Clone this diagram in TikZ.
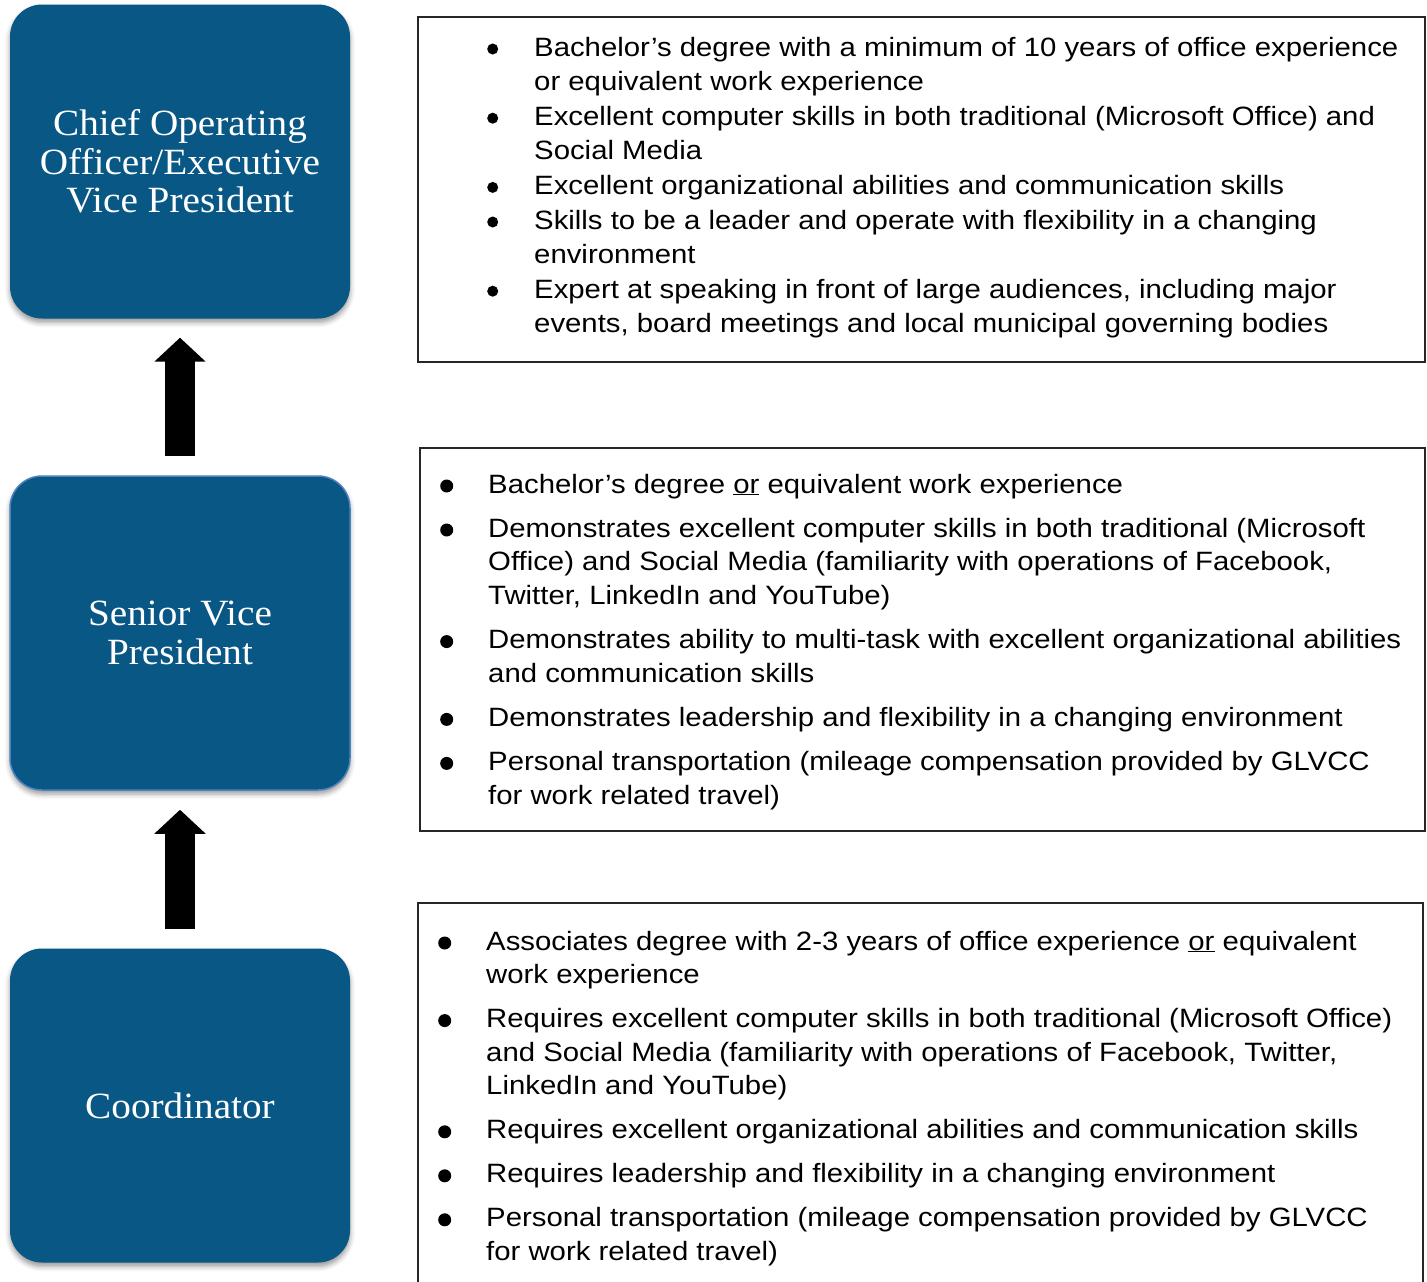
\documentclass[tikz,border=0pt]{standalone}
\usepackage{fontspec}
\setmainfont[FakeStretch=1.107]{Liberation Sans}
\newfontfamily\titlefont[FakeStretch=1.06]{Liberation Serif}
\usetikzlibrary{arrows.meta,shadows.blur}

\definecolor{rolefill}{RGB}{8,87,133}
\definecolor{roleedge}{RGB}{79,129,189}

% bullet mark: column width, dot radius
\newcommand\dotmark[2]{\makebox[#1][l]{\tikz[baseline={(0pt,-7pt)}]\fill[black] (0pt,0pt) circle (#2);}}

\tikzset{
  role/.style={fill=rolefill, rounded corners=32pt, minimum width=340pt,
    minimum height=314pt, inner sep=0pt, text=white, align=center,
    font=\titlefont\fontsize{37}{38.5}\selectfont,
    blur shadow={shadow xshift=0pt, shadow yshift=-4pt,
      shadow blur radius=5pt, shadow opacity=40}},
  reqbox/.style={draw=black!85, line width=1.5pt, inner sep=0pt},
  reqtext/.style={anchor=base west, inner sep=0pt, align=left},
  climb/.style={line width=30pt, -{Triangle[width=50pt,length=24pt]},
    shorten <=19pt, shorten >=19pt}
}

\begin{document}
\begin{tikzpicture}[x=1pt,y=1pt]
\useasboundingbox (0,0) rectangle (1427,-1282);

% career ladder
\node[role] (coo) at (180,-161.5) {Chief Operating\\Officer/Executive\\Vice President};
\node[role, draw=roleedge, line width=1.5pt] (svp) at (180,-633) {Senior Vice\\President};
\node[role] (crd) at (180,-1105.5) {Coordinator};

\draw[climb] (svp.north) -- (coo.south);
\draw[climb] (crd.north) -- (svp.south);

% requirement panels
\node[reqbox, minimum width=1007pt, minimum height=345pt] (req1) at (921.5,-189.5) {};
\node[reqbox, minimum width=1005pt, minimum height=383pt] (req2) at (922.5,-639.5) {};
\node[reqbox, minimum width=1005pt, minimum height=397pt] (req3) at (920.5,-1101.5) {};

\node[reqtext, font=\fontsize{26.5}{34.6}\selectfont] (req1text) at (487,-56) {%
\begin{tabular}[t]{@{}l@{}l@{}}
\dotmark{47pt}{5.5pt} & Bachelor’s degree with a minimum of 10 years of office experience\\
 & or equivalent work experience\\
\dotmark{47pt}{5.5pt} & Excellent computer skills in both traditional (Microsoft Office) and\\
 & Social Media\\
\dotmark{47pt}{5.5pt} & Excellent organizational abilities and communication skills\\
\dotmark{47pt}{5.5pt} & Skills to be a leader and operate with flexibility in a changing\\
 & environment\\
\dotmark{47pt}{5.5pt} & Expert at speaking in front of large audiences, including major\\
 & events, board meetings and local municipal governing bodies
\end{tabular}};

\node[reqtext, font=\fontsize{26.5}{33.8}\selectfont] (req2text) at (440,-493) {%
\begin{tabular}[t]{@{}l@{}l@{}}
\dotmark{48pt}{6.5pt} & Bachelor’s degree \underline{or} equivalent work experience\\[10.2pt]
\dotmark{48pt}{6.5pt} & Demonstrates excellent computer skills in both traditional (Microsoft\\
 & Office) and Social Media (familiarity with operations of Facebook,\\
 & Twitter, LinkedIn and YouTube)\\[10.2pt]
\dotmark{48pt}{6.5pt} & Demonstrates ability to multi-task with excellent organizational abilities\\
 & and communication skills\\[10.2pt]
\dotmark{48pt}{6.5pt} & Demonstrates leadership and flexibility in a changing environment\\[10.2pt]
\dotmark{48pt}{6.5pt} & Personal transportation (mileage compensation provided by GLVCC\\
 & for work related travel)
\end{tabular}};

\node[reqtext, font=\fontsize{26.5}{33.6}\selectfont] (req3text) at (438,-950) {%
\begin{tabular}[t]{@{}l@{}l@{}}
\dotmark{48pt}{6.5pt} & Associates degree with 2-3 years of office experience \underline{or} equivalent\\
 & work experience\\[10.4pt]
\dotmark{48pt}{6.5pt} & Requires excellent computer skills in both traditional (Microsoft Office)\\
 & and Social Media (familiarity with operations of Facebook, Twitter,\\
 & LinkedIn and YouTube)\\[10.4pt]
\dotmark{48pt}{6.5pt} & Requires excellent organizational abilities and communication skills\\[10.4pt]
\dotmark{48pt}{6.5pt} & Requires leadership and flexibility in a changing environment\\[10.4pt]
\dotmark{48pt}{6.5pt} & Personal transportation (mileage compensation provided by GLVCC\\
 & for work related travel)
\end{tabular}};
\end{tikzpicture}
\end{document}
